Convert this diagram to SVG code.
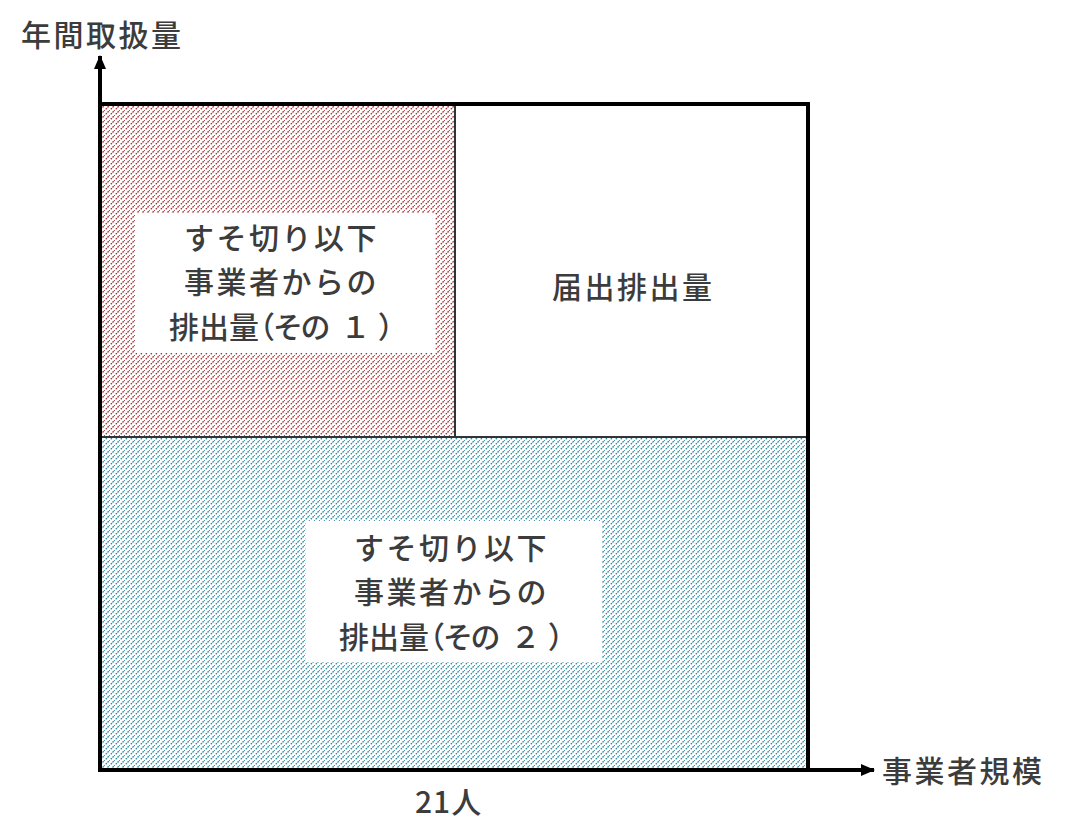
<svg xmlns="http://www.w3.org/2000/svg" width="1069" height="839" viewBox="0 0 1069 839">
<style>
text{font-family:"Noto Sans CJK JP","Noto Sans CJK SC",sans-serif;fill:#3c3c3c;font-size:30px;font-weight:500;letter-spacing:2.5px}
.ax{stroke:#000;stroke-width:4;fill:none}
.div{stroke:#333;stroke-width:2;fill:none}
.p3{letter-spacing:0;font-feature-settings:"palt"}
</style>
<defs>
<pattern id="hr" width="5" height="5" patternUnits="userSpaceOnUse">
<rect width="5" height="5" fill="#fff"/>
<path d="M-1,6 L6,-1" stroke="#a03035" stroke-width="1.3" stroke-dasharray="1.6 0.9"/>
</pattern>
<pattern id="ht" width="5" height="5" patternUnits="userSpaceOnUse">
<rect width="5" height="5" fill="#fff"/>
<path d="M-1,6 L6,-1" stroke="#2a8a9c" stroke-width="1.3" stroke-dasharray="1.6 0.9"/>
</pattern>
<marker id="ah" markerWidth="14" markerHeight="12" refX="13" refY="6" orient="auto" markerUnits="userSpaceOnUse" viewBox="0 0 14 12">
<path d="M0,0 L14,6 L0,12 z" fill="#000"/>
</marker>
</defs>
<g id="region1">
<rect x="100" y="104" width="355" height="333" fill="url(#hr)"/>
<rect x="135" y="213" width="300" height="140" fill="#fff"/>
<text x="184" y="249">すそ切り以下</text>
<text x="184" y="293">事業者からの</text>
<text x="169" y="338" class="p3">排出量（その<tspan dx="14">１</tspan><tspan dx="12">）</tspan></text>
</g>
<g id="region2">
<rect x="100" y="437" width="708" height="333" fill="url(#ht)"/>
<rect x="306" y="521" width="296" height="141" fill="#fff"/>
<text x="354" y="559">すそ切り以下</text>
<text x="354" y="603">事業者からの</text>
<text x="339" y="648" class="p3">排出量（その<tspan dx="14">２</tspan><tspan dx="12">）</tspan></text>
</g>
<g id="region3">
<rect x="455" y="104" width="353" height="333" fill="#fff"/>
<text x="552" y="298">届出排出量</text>
</g>
<g id="connectors">
<line class="div" x1="455" y1="104" x2="455" y2="437"/>
<line class="div" x1="100" y1="437" x2="808" y2="437"/>
<rect class="ax" x="100" y="104" width="708" height="666"/>
<line class="ax" x1="100" y1="104" x2="100" y2="56" marker-end="url(#ah)"/>
<line class="ax" x1="808" y1="770" x2="874" y2="770" marker-end="url(#ah)"/>
</g>
<g id="labels">
<text x="21" y="46">年間取扱量</text>
<text x="882" y="782">事業者規模</text>
<text x="415" y="813" style="letter-spacing:1px">21人</text>
</g>
</svg>
